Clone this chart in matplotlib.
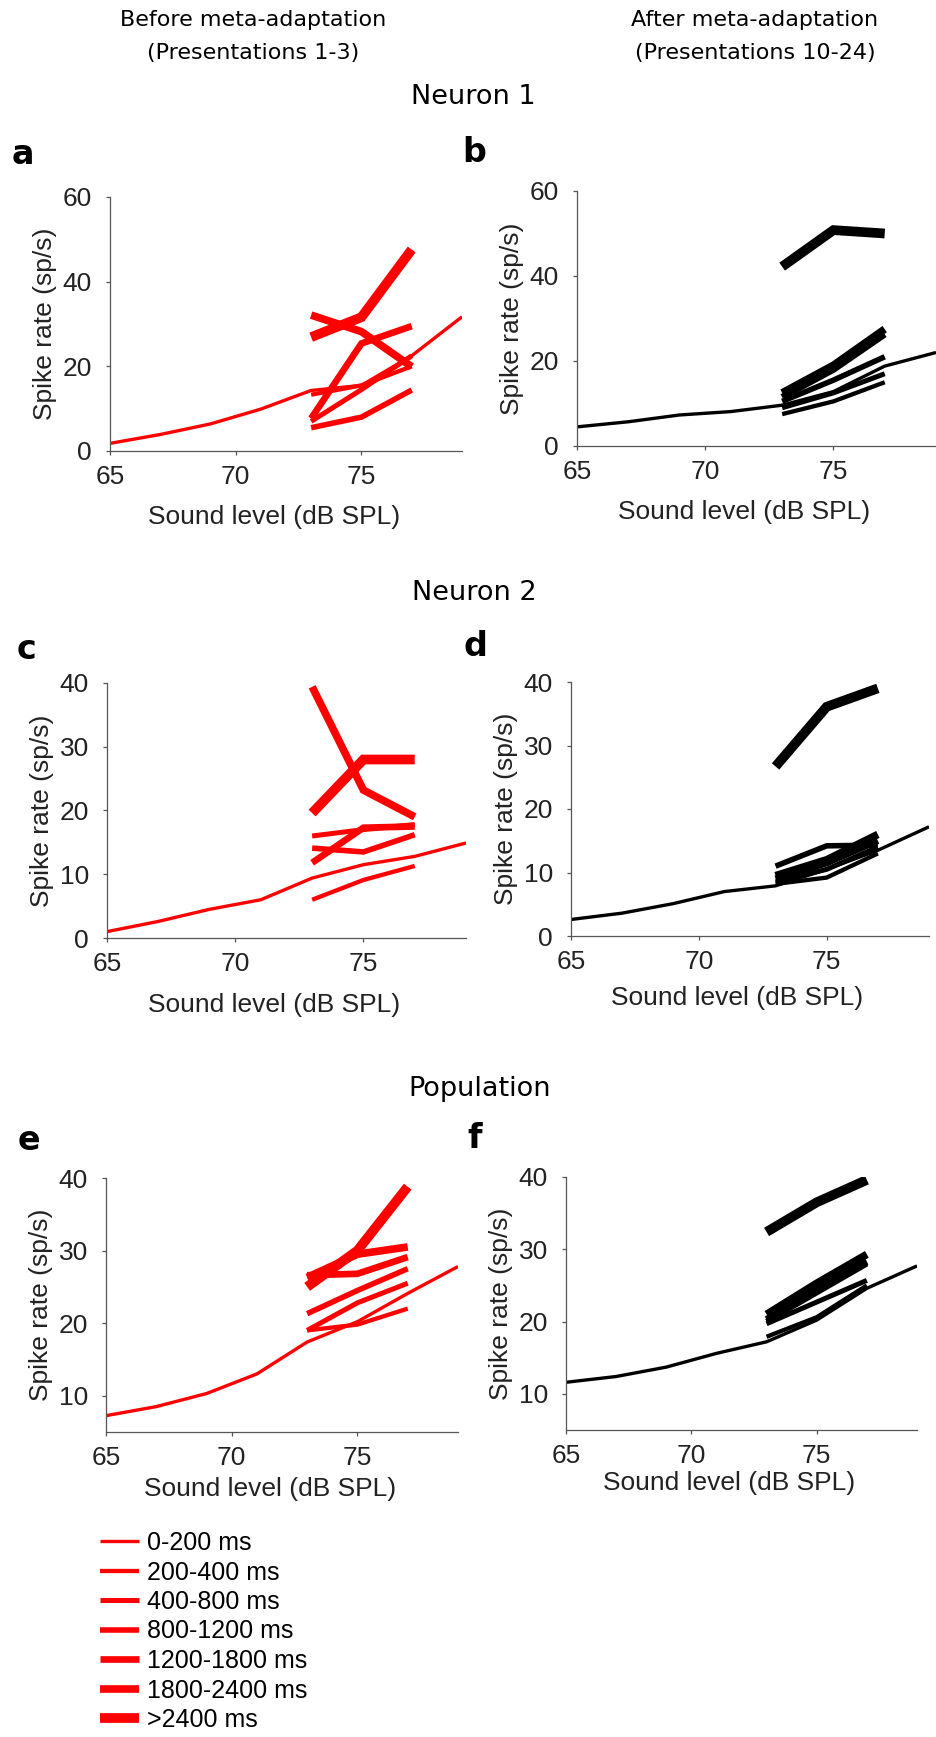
import matplotlib.pyplot as plt

# sound levels (dB SPL)
levels_all = [65, 67, 69, 71, 73, 75, 77, 79]
levels_top = [73, 75, 77]

time_bins = ['0-200 ms', '200-400 ms', '400-800 ms', '800-1200 ms',
             '1200-1800 ms', '1800-2400 ms', '>2400 ms']
bin_widths = [2.4, 3.1, 3.6, 4.0, 4.8, 5.5, 7.0]

# first time bin covers every level, later bins only 73-77 dB
n1_before_first = [1.8, 3.9, 6.4, 9.9, 14.3, 15.5, 22.5, 31.7]
n1_before_rest = [[13.3, 15.5, 20.0], [7.0, 14.5, 22.5], [5.5, 8.0, 14.4],
                  [7.7, 25.4, 29.5], [32.1, 28.2, 19.9], [26.9, 31.6, 47.6]]
n1_after_first = [4.5, 5.7, 7.3, 8.1, 9.6, 12.8, 18.8, 22.0]
n1_after_rest = [[7.5, 10.5, 15.0], [9.0, 12.5, 17.0], [10.5, 15.5, 21.0],
                 [11.5, 18.0, 26.3], [12.5, 19.0, 27.5], [42.2, 50.8, 50.0]]

n2_before_first = [1.0, 2.6, 4.5, 6.0, 9.4, 11.5, 12.8, 14.9]
n2_before_rest = [[6.0, 9.1, 11.3], [16.0, 17.0, 17.8], [14.1, 13.5, 16.2],
                  [11.8, 17.3, 17.5], [39.4, 23.2, 19.0], [19.6, 28.0, 28.0]]
n2_after_first = [2.6, 3.6, 5.1, 7.0, 7.9, 10.5, 13.5, 17.2]
n2_after_rest = [[8.2, 9.2, 13.0], [8.5, 10.5, 14.0], [11.0, 14.2, 14.3],
                 [9.0, 11.5, 15.0], [9.5, 12.0, 16.0], [26.7, 36.1, 39.0]]

pop_before_first = [7.25, 8.5, 10.3, 13.0, 17.4, 20.2, 24.1, 27.8]
pop_before_rest = [[19.0, 19.8, 22.0], [19.0, 22.8, 25.5], [21.3, 24.5, 27.5],
                   [26.6, 26.8, 29.1], [26.3, 29.5, 30.5], [25.0, 30.0, 38.8]]
pop_after_first = [11.6, 12.4, 13.7, 15.6, 17.2, 20.2, 24.6, 27.7]
pop_after_rest = [[17.9, 20.6, 25.0], [19.7, 22.7, 25.7], [20.0, 24.0, 28.0],
                  [20.3, 24.8, 28.3], [21.0, 25.3, 29.3], [32.4, 36.5, 39.6]]

W, H = 936, 1737
fig = plt.figure(figsize=(W / 100, H / 100), dpi=100)


def add_panel(l, r, t, b):
    return fig.add_axes([l / W, 1 - b / H, (r - l) / W, (b - t) / H])


panels = [
    # box, first, rest, color, ylim, yticks, letter, letter pos, xlabel y
    ((110, 462, 197, 451), n1_before_first, n1_before_rest, 'red', (0, 60), [0, 20, 40, 60], 'a', (23, 164), -0.214),
    ((577, 936, 191, 446), n1_after_first, n1_after_rest, 'black', (0, 60), [0, 20, 40, 60], 'b', (474, 162), -0.213),
    ((107, 466, 683, 938), n2_before_first, n2_before_rest, 'red', (0, 40), [0, 10, 20, 30, 40], 'c', (26, 659), -0.217),
    ((571, 929, 682, 936), n2_after_first, n2_after_rest, 'black', (0, 40), [0, 10, 20, 30, 40], 'd', (475, 656), -0.197),
    ((106, 458, 1178, 1432), pop_before_first, pop_before_rest, 'red', (5, 40), [10, 20, 30, 40], 'e', (29, 1150), -0.177),
    ((566, 917, 1177, 1430), pop_after_first, pop_after_rest, 'black', (5, 40), [10, 20, 30, 40], 'f', (475, 1148), -0.163),
]

legend_lines = None
for box, first, rest, col, ylim, yticks, letter, lpos, xly in panels:
    ax = add_panel(*box)
    lines = []
    ln, = ax.plot(levels_all, first, color=col, lw=bin_widths[0],
                  solid_capstyle='butt', solid_joinstyle='miter')
    lines.append(ln)
    for vals, w in zip(rest, bin_widths[1:]):
        ln, = ax.plot(levels_top, vals, color=col, lw=w,
                      solid_capstyle='butt', solid_joinstyle='miter')
        lines.append(ln)
    ax.set_xlim(65, 79)
    ax.set_ylim(*ylim)
    ax.set_xticks([65, 70, 75])
    ax.set_yticks(yticks)
    for s in ['top', 'right']:
        ax.spines[s].set_visible(False)
    for s in ['left', 'bottom']:
        ax.spines[s].set_color('#555555')
        ax.spines[s].set_linewidth(0.9)
    ax.tick_params(direction='out', length=3, width=0.9, color='#555555',
                   labelsize=19, labelcolor='#222222')
    ax.tick_params(axis='x', pad=7)
    ax.tick_params(axis='y', pad=10)
    for t in ax.get_xticklabels() + ax.get_yticklabels():
        t.set_fontfamily('Liberation Sans')
    ax.set_xlabel('Sound level (dB SPL)', fontsize=19, family='Liberation Sans', color='#222222')
    ax.set_ylabel('Spike rate (sp/s)', fontsize=19, family='Liberation Sans', color='#222222', labelpad=4)
    ax.xaxis.set_label_coords(0.465, xly)
    fig.text(lpos[0] / W, 1 - lpos[1] / H, letter, fontsize=24, fontweight='bold',
             ha='center', va='baseline', family='DejaVu Sans')
    if letter == 'e':
        legend_lines = lines

# column headers and row titles
fig.text(253 / W, 1 - 20 / H, 'Before meta-adaptation', fontsize=16, ha='center', va='center')
fig.text(253 / W, 1 - 53 / H, '(Presentations 1-3)', fontsize=16, ha='center', va='center')
fig.text(755 / W, 1 - 20 / H, 'After meta-adaptation', fontsize=16, ha='center', va='center')
fig.text(755 / W, 1 - 53 / H, '(Presentations 10-24)', fontsize=16, ha='center', va='center')
fig.text(473 / W, 1 - 97 / H, 'Neuron 1', fontsize=19.5, ha='center', va='center')
fig.text(474 / W, 1 - 593 / H, 'Neuron 2', fontsize=19.5, ha='center', va='center')
fig.text(480 / W, 1 - 1089 / H, 'Population', fontsize=19.5, ha='center', va='center')

fig.legend(legend_lines, time_bins, loc='upper left',
           bbox_to_anchor=(100 / W, 1 - 1531 / H), frameon=False,
           borderpad=0, borderaxespad=0, handlelength=1.55, handletextpad=0.33,
           labelspacing=0.22, prop={'family': 'Liberation Sans', 'size': 18})

fig.savefig('out.png', dpi=100)
